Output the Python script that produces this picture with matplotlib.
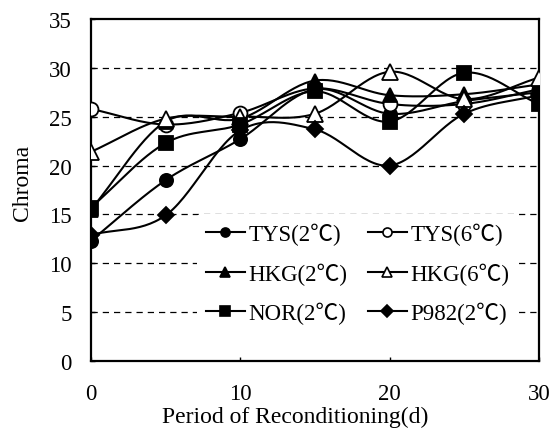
import numpy as np
import matplotlib
matplotlib.use("Agg")
import matplotlib.pyplot as plt
from matplotlib.lines import Line2D

plt.rcParams['font.family'] = ['Liberation Serif', 'Noto Sans CJK JP', 'DejaVu Sans']

days = [0, 5, 10, 15, 20, 25, 30]
tys_2c = [12.3, 18.5, 22.7, 27.8, 25.3, 26.6, 27.5]
tys_6c = [25.8, 24.2, 25.4, 27.9, 26.3, 26.3, 27.8]
hkg_2c = [15.5, 24.5, 24.8, 28.7, 27.2, 27.3, 28.3]
hkg_6c = [21.4, 24.8, 25.0, 25.3, 29.6, 26.8, 29.0]
nor_2c = [15.7, 22.3, 24.2, 27.6, 24.5, 29.5, 26.3]
p982_2c = [12.9, 14.9, 23.6, 23.7, 20.0, 25.3, 27.2]

labels = ["TYS(2℃)", "TYS(6℃)", "HKG(2℃)", "HKG(6℃)", "NOR(2℃)", "P982(2℃)"]
series = [tys_2c, tys_6c, hkg_2c, hkg_6c, nor_2c, p982_2c]
markers = ["o", "o", "^", "^", "s", "D"]
faces = ["black", "white", "black", "white", "black", "black"]
msizes = [9.5, 10, 10.5, 11, 9.5, 8.5]

y_ticks = [0, 5, 10, 15, 20, 25, 30, 35]
x_ticks = [0, 10, 20, 30]


def smooth(x, y, n=30):
    x = np.asarray(x, float)
    y = np.asarray(y, float)
    px = np.concatenate([[2 * x[0] - x[1]], x, [2 * x[-1] - x[-2]]])
    py = np.concatenate([[2 * y[0] - y[1]], y, [2 * y[-1] - y[-2]]])
    xs, ys = [], []
    t = np.linspace(0, 1, n)
    for i in range(1, len(px) - 2):
        p0, p1, p2, p3 = (np.array([px[j], py[j]]) for j in range(i - 1, i + 3))
        c1 = p1 + (p2 - p0) / 6.0
        c2 = p2 - (p3 - p1) / 6.0
        b = ((1 - t) ** 3)[:, None] * p1 + (3 * (1 - t) ** 2 * t)[:, None] * c1 \
            + (3 * (1 - t) * t ** 2)[:, None] * c2 + (t ** 3)[:, None] * p2
        xs.append(b[:, 0])
        ys.append(b[:, 1])
    return np.concatenate(xs), np.concatenate(ys)


fig = plt.figure(figsize=(5.51, 4.35), dpi=100)
ax = fig.add_axes([0.165, 0.168, 0.813, 0.786])

for yv in y_ticks[1:-1]:
    ax.axhline(yv, color="black", lw=0.9, ls=(0, (5, 4)), zorder=1)

for s, m, fc, ms in zip(series, markers, faces, msizes):
    sx, sy = smooth(days, s)
    ax.plot(sx, sy, color="black", lw=1.5, zorder=3)
    ax.plot(days, s, ls="none", marker=m, ms=ms, mfc=fc, mec="black", mew=1.3, zorder=4)

handles = [Line2D([], [], color="black", lw=1.5, marker=m, ms=6.5, mfc=fc, mec="black", mew=1.2)
           for m, fc in zip(markers, faces)]
order = [0, 2, 4, 1, 3, 5]
leg = ax.legend([handles[i] for i in order], [labels[i] for i in order], ncol=2,
                loc="lower left", bbox_to_anchor=(0.236, 0.08), frameon=True,
                fontsize=16.5, handlelength=1.7, handletextpad=0.15, columnspacing=0.9,
                labelspacing=0.75, borderpad=0.4, borderaxespad=0)
leg.get_frame().set_facecolor("white")
leg.get_frame().set_edgecolor("none")
leg.get_frame().set_alpha(1)
leg.set_zorder(5)

ax.set_xlim(0, 30)
ax.set_ylim(0, 35)
ax.set_xticks(x_ticks)
ax.set_yticks(y_ticks)
ax.tick_params(direction="in", length=3, width=1, labelsize=16.5, pad=14)
ax.tick_params(axis="x", pad=16)
for sp in ax.spines.values():
    sp.set_linewidth(1.6)
ax.set_xlabel("Period of Reconditioning(d)", fontsize=17)
ax.set_ylabel("Chroma", fontsize=17)
ax.xaxis.set_label_coords(0.455, -0.132)
ax.xaxis.label.set_va("top")
ax.yaxis.set_label_coords(-0.13, 0.523)

fig.savefig("out.png", dpi=100)
